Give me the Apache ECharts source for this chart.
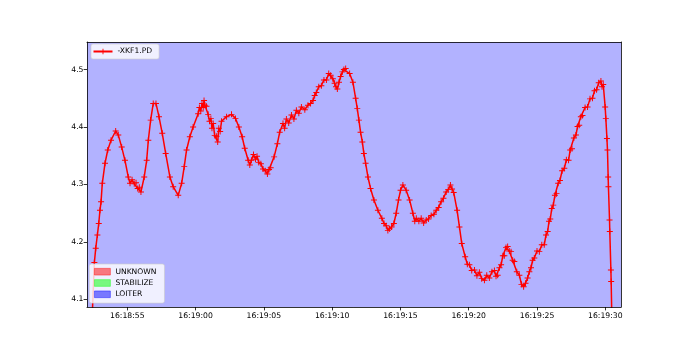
<!DOCTYPE html>
<html>
<head>
<meta charset="utf-8">
<script src="https://cdn.jsdelivr.net/npm/echarts@6/dist/echarts.min.js"></script>
<style>
html,body{margin:0;padding:0;background:#fff;}
#chart{width:690px;height:345px;}
</style>
</head>
<body>
<div id="chart"></div>
<script>
// seconds after 16:18:00
const times = [
52.31,52.59,52.69,52.81,52.91,53.00,53.08,53.17,53.37,53.57,
53.81,54.15,54.34,54.59,54.83,55.07,55.20,55.35,55.51,55.64,
55.76,55.88,56.00,56.24,56.42,56.54,56.71,56.90,57.10,57.32,
57.56,57.81,58.12,58.36,58.73,58.98,59.17,59.34,59.58,59.82,
60.19,60.28,60.38,60.47,60.56,60.62,60.68,60.80,60.92,61.02,
61.12,61.20,61.29,61.40,61.54,61.62,61.70,61.80,61.90,62.27,
62.63,62.92,63.17,63.41,63.60,63.85,63.97,64.09,64.24,64.39,
64.50,64.63,64.78,64.94,65.10,65.26,65.38,65.50,65.75,65.99,
66.16,66.40,66.52,66.65,66.82,67.02,67.20,67.38,67.56,67.75,
68.00,68.23,68.42,68.60,68.72,68.84,69.02,69.21,69.40,69.58,
69.75,69.89,70.05,70.18,70.28,70.38,70.50,70.62,70.75,70.86,
70.99,71.28,71.52,71.72,71.84,71.96,72.08,72.21,72.32,72.45,
72.62,72.81,73.06,73.35,73.64,73.80,73.96,74.08,74.20,74.35,
74.52,74.69,74.86,75.01,75.18,75.42,75.67,75.91,76.05,76.16,
76.35,76.52,76.70,76.89,77.05,77.25,77.45,77.62,77.80,77.98,
78.15,78.35,78.50,78.66,78.78,78.90,79.15,79.32,79.49,79.74,
79.90,80.05,80.22,80.42,80.60,80.78,80.95,81.15,81.32,81.51,
81.70,81.88,82.00,82.12,82.25,82.37,82.50,82.61,82.73,82.85,
82.97,83.10,83.22,83.34,83.52,83.71,83.86,84.02,84.16,84.31,
84.44,84.56,84.68,84.80,85.00,85.17,85.35,85.53,85.66,85.78,
85.88,85.97,86.08,86.19,86.31,86.43,86.55,86.68,86.84,87.00,
87.15,87.31,87.43,87.56,87.70,87.85,87.97,88.09,88.21,88.33,
88.52,88.70,88.88,89.06,89.21,89.36,89.52,89.68,89.76,89.85,
89.99,90.04,90.12,90.16,90.21,90.23,90.31,90.33,90.41,90.43,
90.50];
const pd = [
4.000,4.164,4.189,4.212,4.232,4.255,4.270,4.302,4.337,4.360,
4.377,4.393,4.386,4.365,4.342,4.313,4.302,4.308,4.301,4.303,
4.293,4.295,4.287,4.313,4.342,4.377,4.412,4.441,4.441,4.418,
4.389,4.354,4.313,4.296,4.281,4.302,4.331,4.360,4.383,4.400,
4.423,4.434,4.428,4.441,4.434,4.446,4.438,4.436,4.422,4.410,
4.415,4.398,4.406,4.385,4.384,4.374,4.398,4.392,4.410,4.418,
4.422,4.415,4.400,4.383,4.363,4.342,4.334,4.342,4.352,4.344,
4.349,4.338,4.336,4.327,4.324,4.318,4.326,4.329,4.348,4.371,
4.391,4.406,4.398,4.414,4.407,4.421,4.414,4.429,4.424,4.435,
4.430,4.438,4.441,4.446,4.455,4.460,4.470,4.472,4.482,4.482,
4.493,4.490,4.484,4.476,4.470,4.466,4.478,4.488,4.496,4.500,
4.502,4.493,4.478,4.450,4.432,4.412,4.391,4.374,4.354,4.337,
4.313,4.293,4.273,4.255,4.241,4.232,4.228,4.220,4.223,4.226,
4.232,4.250,4.273,4.290,4.299,4.290,4.273,4.250,4.236,4.241,
4.236,4.241,4.233,4.238,4.240,4.246,4.248,4.255,4.260,4.270,
4.276,4.287,4.291,4.299,4.292,4.286,4.255,4.226,4.197,4.174,
4.161,4.160,4.150,4.151,4.141,4.147,4.136,4.133,4.142,4.137,
4.148,4.150,4.140,4.142,4.155,4.160,4.176,4.176,4.190,4.192,
4.184,4.183,4.168,4.166,4.148,4.142,4.126,4.122,4.128,4.137,
4.148,4.155,4.168,4.172,4.184,4.183,4.195,4.195,4.212,4.218,
4.236,4.240,4.258,4.264,4.281,4.284,4.302,4.307,4.324,4.328,
4.343,4.342,4.360,4.362,4.381,4.386,4.401,4.403,4.418,4.420,
4.434,4.435,4.449,4.450,4.463,4.465,4.477,4.480,4.470,4.474,
4.435,4.415,4.380,4.360,4.313,4.296,4.238,4.218,4.151,4.131,
4.040];
const yTicks = [4.1, 4.2, 4.3, 4.4, 4.5];
const xTicks = [55, 60, 65, 70, 75, 80, 85, 90];
const modes = ['UNKNOWN', 'STABILIZE', 'LOITER'];
const modeColors = ['rgba(255,0,0,0.5)', 'rgba(0,255,0,0.5)', 'rgba(0,0,255,0.5)'];
const loiterSpan = [52.05, 91.15];
const seriesName = '-XKF1.PD';

const FONT = 'DejaVu Sans';
const fmtTime = v => {
  const m = 18 + Math.floor(v / 60);
  const s = Math.round(v - Math.floor(v / 60) * 60);
  return '16:' + String(m).padStart(2, '0') + ':' + String(s).padStart(2, '0');
};
const plus = 'path://M-0.16,-1H0.16V-0.16H1V0.16H0.16V1H-0.16V0.16H-1V-0.16H-0.16Z';

const chart = echarts.init(document.getElementById('chart'), null, {renderer: 'canvas'});
const modeSeries = modes.map((m, i) => {
  const s = {name: m, type: 'line', data: [], z: 1, itemStyle: {color: modeColors[i]}};
  if (m === 'LOITER') {
    s.markArea = {
      silent: true,
      itemStyle: {color: 'rgba(0,0,255,0.3)'},
      data: [[{xAxis: loiterSpan[0]}, {xAxis: loiterSpan[1]}]]
    };
  }
  return s;
});
chart.setOption({
  animation: false,
  backgroundColor: '#fff',
  grid: {left: 87, top: 42, right: 69, bottom: 38, containLabel: false},
  xAxis: [{
    type: 'value', min: loiterSpan[0], max: loiterSpan[1], z: 5,
    axisLine: {show: true, onZero: false, lineStyle: {color: '#000', width: 0.8}},
    axisTick: {show: true, length: 3.4, customValues: xTicks, lineStyle: {color: '#000', width: 0.8}},
    axisLabel: {customValues: xTicks, formatter: fmtTime, color: '#000', fontFamily: FONT, fontSize: 7.7, margin: 5},
    splitLine: {show: false}
  }, {
    type: 'value', position: 'top', min: loiterSpan[0], max: loiterSpan[1], z: 5,
    axisLine: {show: true, onZero: false, lineStyle: {color: '#000', width: 0.8}},
    axisTick: {show: false}, axisLabel: {show: false}, splitLine: {show: false}
  }],
  yAxis: [{
    type: 'value', min: 4.0866, max: 4.548, z: 5,
    axisLine: {show: true, onZero: false, lineStyle: {color: '#000', width: 0.8}},
    axisTick: {show: true, length: 3.4, customValues: yTicks, lineStyle: {color: '#000', width: 0.8}},
    axisLabel: {customValues: yTicks, formatter: v => v.toFixed(1), color: '#000', fontFamily: FONT, fontSize: 7.7, margin: 3.5},
    splitLine: {show: false}
  }, {
    type: 'value', position: 'right', min: 4.0866, max: 4.548, z: 5,
    axisLine: {show: true, onZero: false, lineStyle: {color: '#000', width: 0.8}},
    axisTick: {show: false}, axisLabel: {show: false}, splitLine: {show: false}
  }],
  legend: [{
    data: [seriesName], left: 91, top: 44, orient: 'vertical',
    selectedMode: false, itemWidth: 19, itemHeight: 7,
    padding: [3, 7, 3, 1.5],
    backgroundColor: 'rgba(255,255,255,0.8)', borderColor: 'rgba(204,204,204,0.8)', borderWidth: 0.8, borderRadius: 2,
    textStyle: {color: '#000', fontFamily: FONT, fontSize: 7.6, lineHeight: 9}
  }, {
    data: modes.map((m, i) => ({name: m, icon: 'rect', itemStyle: {color: modeColors[i], borderColor: modeColors[i], borderWidth: 0.8}})),
    left: 89.3, top: 264, orient: 'vertical',
    selectedMode: false, itemWidth: 16, itemHeight: 6.7, itemGap: 2.3,
    padding: [3.2, 8, 4.3, 4.7],
    backgroundColor: 'rgba(255,255,255,0.8)', borderColor: 'rgba(204,204,204,0.8)', borderWidth: 0.8, borderRadius: 2,
    textStyle: {color: '#000', fontFamily: FONT, fontSize: 7.6, lineHeight: 9}
  }],
  series: modeSeries.concat([{
    name: seriesName, type: 'line', z: 3,
    data: times.map((t, i) => [t, pd[i]]),
    symbol: plus, symbolSize: 6, showSymbol: true,
    lineStyle: {color: '#ff0000', width: 1.5},
    itemStyle: {color: '#ff0000'},
    clip: true
  }])
});
</script>
</body>
</html>
